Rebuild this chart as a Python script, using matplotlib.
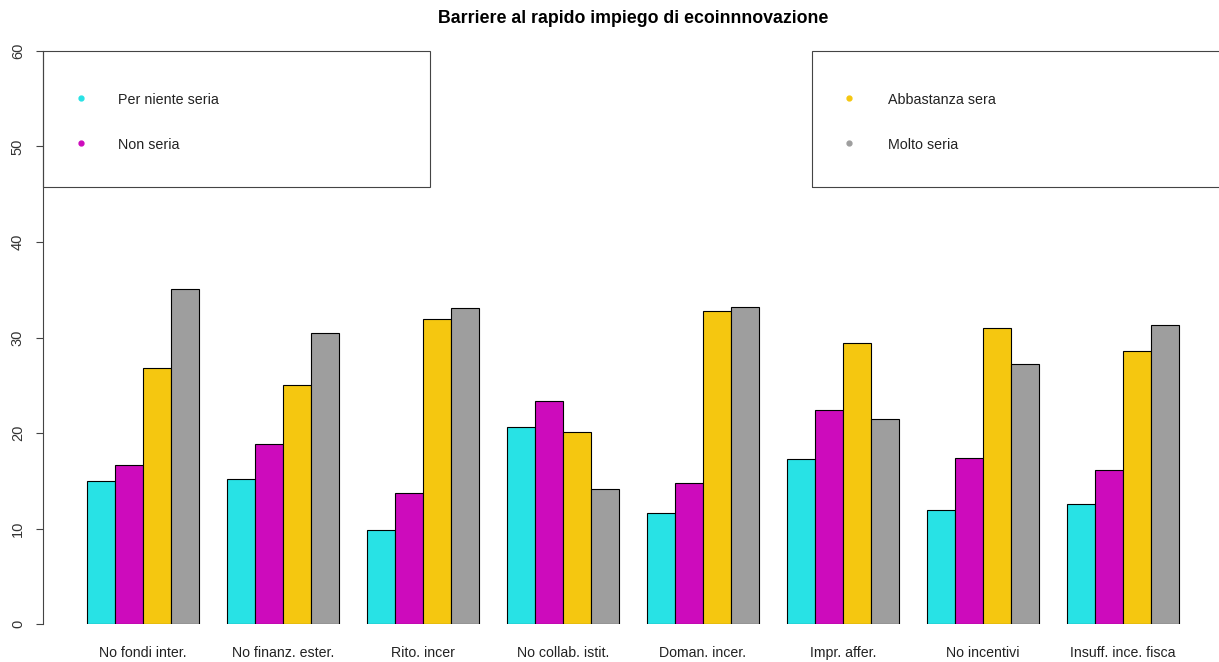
import numpy as np
import matplotlib.pyplot as plt
from matplotlib.patches import Rectangle

plt.rcParams['font.family'] = ['Liberation Sans', 'DejaVu Sans']

barriere = ['No fondi inter.', 'No finanz. ester.', 'Rito. incer', 'No collab. istit.',
            'Doman. incer.', 'Impr. affer.', 'No incentivi', 'Insuff. ince. fisca']
livelli = ['Per niente seria', 'Non seria', 'Abbastanza sera', 'Molto seria']
colori = ['#28E2E5', '#CD0BBC', '#F5C710', '#9E9E9E']

per_niente = [15.0, 15.2, 9.8, 20.6, 11.6, 17.3, 11.9, 12.6]
non_seria = [16.7, 18.8, 13.7, 23.4, 14.8, 22.4, 17.4, 16.1]
abbastanza = [26.8, 25.0, 31.9, 20.1, 32.8, 29.4, 31.0, 28.6]
molto = [35.1, 30.5, 33.1, 14.1, 33.2, 21.5, 27.2, 31.3]
serie = [per_niente, non_seria, abbastanza, molto]

fig = plt.figure(figsize=(12.19, 6.62), dpi=100)
ax = fig.add_axes([43 / 1219, 38 / 662, 1179.7 / 1219, 573 / 662])

# barplot affiancato: 4 barre per gruppo + 1 di spazio
n = len(barriere)
start = 1 + 5 * np.arange(n)
for j, (vals, col) in enumerate(zip(serie, colori)):
    ax.bar(start + j + 0.5, vals, width=1, color=col, edgecolor='black', linewidth=0.8)

ax.set_xlim(-0.56, 41.56)
ax.set_ylim(0, 60)
ax.set_xticks(start + 2)
ax.set_xticklabels(barriere, fontsize=10.2, color='#222222')
ax.tick_params(axis='x', length=0, pad=16)
ax.set_yticks(np.arange(0, 61, 10))
ax.tick_params(axis='y', length=5, width=0.8, color='#444444', pad=8, labelsize=10.5,
               labelcolor='#333333')
for lab in ax.get_yticklabels():
    lab.set_rotation(90)
    lab.set_va('center')
for s in ['top', 'right', 'bottom']:
    ax.spines[s].set_visible(False)
ax.spines['left'].set_color('#444444')
ax.spines['left'].set_linewidth(0.8)

ax.set_title('Barriere al rapido impiego di ecoinnnovazione', fontsize=12.8,
             fontweight='bold', pad=20)

# legende in stile R (due riquadri in alto)
def legenda(x0, x1, xdot, xtxt, labels, cols):
    ax.add_patch(Rectangle((x0, 0.7627), x1 - x0, 1 - 0.7627, transform=ax.transAxes,
                           fill=False, edgecolor='#444444', linewidth=0.8, clip_on=False))
    for y, lab, c in zip([0.918, 0.839], labels, cols):
        ax.plot([xdot], [y], 'o', color=c, markersize=3.5, transform=ax.transAxes, clip_on=False)
        ax.text(xtxt, y - 0.003, lab, transform=ax.transAxes, va='center', ha='left',
                fontsize=10.3, color='#222222')

legenda(0.0, 0.328, 0.0322, 0.0636, livelli[:2], colori[:2])
legenda(0.652, 1.01, 0.683, 0.716, livelli[2:], colori[2:])

fig.savefig('out.png', dpi=100)
